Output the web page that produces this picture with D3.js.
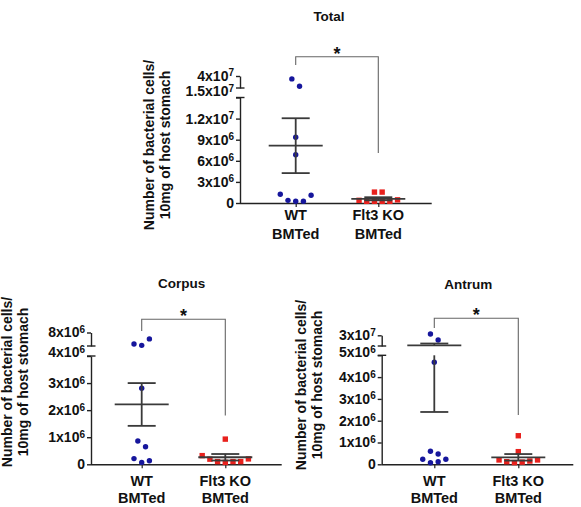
<!DOCTYPE html>
<html>
<head>
<meta charset="utf-8">
<script src="https://cdn.jsdelivr.net/npm/d3@7"></script>
<style>
body { margin: 0; background: #fff; }
svg text { font-family: Arial, "Liberation Sans", sans-serif; font-weight: bold; fill: #111; }
</style>
</head>
<body>
<svg width="581" height="507"></svg>
<script>
// ---- data ----
const groups = ["WT", "Flt3 KO"];
const groupLines = [["WT", "BMTed"], ["Flt3 KO", "BMTed"]];

const totalWT = [3.4e7, 1.85e7, 9.35e6, 6.87e6, 0.24e6, 0.38e6, 0.24e6, 1.25e6, 1.1e6];
const totalKO = [1.55e6, 1.55e6, 0.24e6, 0.24e6, 0.24e6, 0.24e6, 0.38e6, 0.45e6];
const totalMean = [8.15e6, 0.6e6];
const totalSem = [3.9e6, 0.22e6];
const totalTicks = [0, 3e6, 6e6, 9e6, 1.2e7, 1.5e7];
const totalTopTicks = [4e7];
const totalCut = 1.5e7;
const totalStarEnd = 7.1e6;

const corpusWT = [4.2e6, 4.6e6, 6.1e6, 2.81e6, 0.86e6, 0.65e6, 0.07e6, 0.21e6, 0.13e6];
const corpusKO = [0.93e6, 0.07e6, 0.1e6, 0.1e6, 0.19e6, 0.1e6, 0.32e6, 0.2e6];
const corpusMean = [2.21e6, 0.26e6];
const corpusSem = [0.79e6, 0.12e6];
const corpusTicks = [0, 1e6, 2e6, 3e6, 4e6];
const corpusTopTicks = [8e6];
const corpusCut = 4e6;
const corpusStarEnd = 1.8e6;

const antrumWT = [3.3e7, 1.9e7, 4.68e6, 0.6e6, 0.47e6, 0.07e6, 0.12e6, 0.23e6, 0.23e6];
const antrumKO = [1.31e6, 0.58e6, 0.08e6, 0.1e6, 0.12e6, 0.15e6, 0.2e6, 0.2e6];
const antrumMean = [6.6e6, 0.32e6];
const antrumSem = [4.2e6, 0.15e6];
const antrumTicks = [0, 1e6, 2e6, 3e6, 4e6, 5e6];
const antrumTopTicks = [3e7];
const antrumCut = 5e6;
const antrumStarEnd = 2.26e6;

const yTitle = ["Number of bacterial cells/", "10mg of host stomach"];

// ---- layout ----
const panels = [
  {title: "Total", wt: totalWT, ko: totalKO, mean: totalMean, sem: totalSem, ticks: totalTicks, topTicks: totalTopTicks, cut: totalCut, starEnd: totalStarEnd,
   axisX: 240, axisEnd: 431.7, cx: [295.7, 378.3], base: 203, lowTop: 97.5, highBottom: 88, highTop: 76,
   titleX: 329, titleY: 21.4, yTitleX: [153.5, 170], yTitleY: 145, labelDy: [17, 36.3], bracketY: 56.7, bracketDrop: 8.3, topLabelShift: -6.5},
  {title: "Corpus", wt: corpusWT, ko: corpusKO, mean: corpusMean, sem: corpusSem, ticks: corpusTicks, topTicks: corpusTopTicks, cut: corpusCut, starEnd: corpusStarEnd,
   axisX: 91, axisEnd: 281.7, cx: [141.7, 225.3], base: 464.3, lowTop: 356, highBottom: 346, highTop: 332.5,
   titleX: 181.7, titleY: 288, yTitleX: [11.7, 28], yTitleY: 382, labelDy: [22, 38.7], bracketY: 319.3, bracketDrop: 11.7, topLabelShift: -4},
  {title: "Antrum", wt: antrumWT, ko: antrumKO, mean: antrumMean, sem: antrumSem, ticks: antrumTicks, topTicks: antrumTopTicks, cut: antrumCut, starEnd: antrumStarEnd,
   axisX: 381.7, axisEnd: 573.3, cx: [434.3, 518.3], base: 464.3, lowTop: 355.3, highBottom: 346, highTop: 335.3,
   titleX: 468.3, titleY: 289, yTitleX: [305.5, 322], yTitleY: 385, labelDy: [22, 38.7], bracketY: 318.3, bracketDrop: 9.7, topLabelShift: -3.5}
];

const dotStep = 7.7, rowGap = 7.5;
const lineCol = "#3a3a3a";

const svg = d3.select("svg");

// "3x10" + superscript exponent
function sci(v) {
  if (v === 0) return ["0", null];
  const e = Math.floor(Math.log10(v) + 1e-9);
  const m = +(v / Math.pow(10, e)).toFixed(1);
  return [m + "x10", e];
}

// GraphPad-like scatter: points close in height share a row, rows are centred
function swarm(values, y, cx) {
  const order = values.map((v, i) => i).sort((a, b) => y(values[a]) - y(values[b]));
  const rows = [];
  order.forEach(i => {
    const py = y(values[i]);
    const last = rows[rows.length - 1];
    if (last && py - last.y0 < rowGap) last.items.push(i);
    else rows.push({y0: py, items: [i]});
  });
  const xs = [];
  rows.forEach(r => {
    const items = r.items.slice().sort((a, b) => a - b);
    const n = items.length, slots = [];
    if (n % 2) {
      slots.push(0);
      for (let k = 1; slots.length < n; k++) { slots.push(-k); if (slots.length < n) slots.push(k); }
    } else {
      for (let k = 0.5; slots.length < n; k++) { slots.push(-k); slots.push(k); }
    }
    items.forEach((i, j) => xs[i] = cx + slots[j] * dotStep);
  });
  return xs;
}

function styleTicks(g, p) {
  g.select(".domain").attr("stroke", "#222").attr("stroke-width", 1.4);
  g.selectAll(".tick line").attr("stroke", "#222").attr("stroke-width", 1.4);
  g.selectAll(".tick text").attr("fill", null).style("font-size", "14px").each(function (d) {
    const t = d3.select(this);
    const [base, e] = sci(d);
    t.text(base);
    if (e !== null) t.append("tspan").attr("dy", "-0.45em").style("font-size", "10px").text(e);
    if (d === p.cut) t.attr("dy", null).attr("y", p.topLabelShift).attr("dy", "0.34em");
  });
}

panels.forEach(p => {
  const g = svg.append("g");

  const yLow = d3.scaleLinear().domain([0, p.cut]).range([p.base, p.lowTop]);
  const yHigh = d3.scaleLinear().domain([p.cut, p.topTicks[p.topTicks.length - 1]]).range([p.highBottom, p.highTop]);
  const y = v => v <= p.cut ? yLow(v) : yHigh(v);
  const x = d3.scalePoint().domain(groups).range(p.cx);

  // y axis, lower segment
  g.append("g").attr("transform", `translate(${p.axisX},0)`)
    .call(d3.axisLeft(yLow).tickValues(p.ticks).tickSize(4).tickSizeOuter(0).tickPadding(2))
    .call(a => styleTicks(a, p));
  // y axis, upper segment
  g.append("g").attr("transform", `translate(${p.axisX},0)`)
    .call(d3.axisLeft(yHigh).tickValues(p.topTicks).tickSize(4).tickSizeOuter(0).tickPadding(2))
    .call(a => styleTicks(a, p));
  // break marks
  [p.lowTop, p.highBottom].forEach(yy => {
    g.append("line").attr("x1", p.axisX - 4).attr("x2", p.axisX + 4.5)
      .attr("y1", yy).attr("y2", yy).attr("stroke", "#222").attr("stroke-width", 1.4);
  });

  // x axis
  const xa = g.append("g").attr("transform", `translate(0,${p.base})`)
    .call(d3.axisBottom(x).tickSize(4).tickFormat(""));
  xa.select(".domain").remove();
  xa.selectAll(".tick line").attr("stroke", "#222").attr("stroke-width", 1.2);
  g.append("line").attr("x1", p.axisX).attr("x2", p.axisEnd)
    .attr("y1", p.base + 0.5).attr("y2", p.base + 0.5).attr("stroke", "#222").attr("stroke-width", 1.4);

  groupLines.forEach((lines, i) => {
    lines.forEach((s, j) => {
      g.append("text").attr("x", x(groups[i])).attr("y", p.base + p.labelDy[j])
        .attr("text-anchor", "middle").style("font-size", "14.5px").text(s);
    });
  });

  // title
  g.append("text").attr("x", p.titleX).attr("y", p.titleY).attr("text-anchor", "middle")
    .style("font-size", "13.5px").text(p.title);

  // y title
  yTitle.forEach((s, j) => {
    g.append("text").attr("transform", `translate(${p.yTitleX[j]},${p.yTitleY}) rotate(-90)`)
      .attr("text-anchor", "middle").style("font-size", "14px").text(s);
  });

  // points
  const wx = swarm(p.wt, y, x(groups[0]));
  g.selectAll("circle.wt").data(p.wt).enter().append("circle")
    .attr("cx", (d, i) => wx[i]).attr("cy", d => y(d)).attr("r", 2.7).attr("fill", "#16169c");
  const kx = swarm(p.ko, y, x(groups[1]));
  const sz = 5.4;
  g.selectAll("rect.ko").data(p.ko).enter().append("rect")
    .attr("x", (d, i) => kx[i] - sz / 2).attr("y", d => y(d) - sz / 2)
    .attr("width", sz).attr("height", sz).attr("fill", "#e8211d");

  // mean +/- SEM
  groups.forEach((grp, i) => {
    const cx = x(grp), m = p.mean[i], lo = m - p.sem[i], hi = m + p.sem[i];
    const seg = (a, b) => g.append("line").attr("x1", cx).attr("x2", cx).attr("y1", a).attr("y2", b)
      .attr("stroke", lineCol).attr("stroke-width", 1.8);
    if (lo < p.cut && hi > p.cut) { seg(y(lo), p.lowTop); seg(p.highBottom, y(hi)); }
    else seg(y(lo), y(hi));
    [[lo, 14], [hi, 14], [m, 27]].forEach(([v, w]) => {
      g.append("line").attr("x1", cx - w).attr("x2", cx + w).attr("y1", y(v)).attr("y2", y(v))
        .attr("stroke", lineCol).attr("stroke-width", 1.8);
    });
  });

  // significance bracket
  const x0 = x(groups[0]), x1 = x(groups[1]);
  g.append("path")
    .attr("d", `M${x0},${p.bracketY + p.bracketDrop}V${p.bracketY}H${x1}V${y(p.starEnd)}`)
    .attr("fill", "none").attr("stroke", "#666").attr("stroke-width", 1.1);
  g.append("text").attr("x", (x0 + x1) / 2).attr("y", p.bracketY + 3).attr("text-anchor", "middle")
    .style("font-size", "18px").text("*");
});
</script>
</body>
</html>
